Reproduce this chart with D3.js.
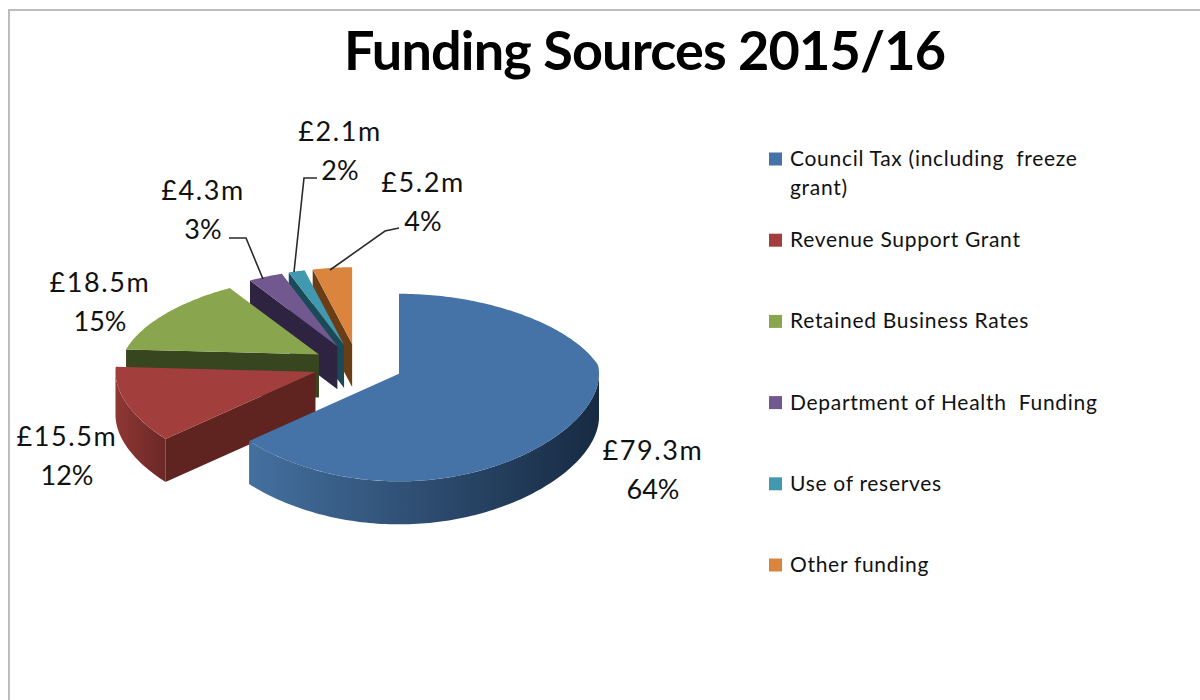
<!DOCTYPE html>
<html>
<head>
<meta charset="utf-8">
<script src="https://cdn.jsdelivr.net/npm/d3@7"></script>
<style>
  html, body { margin: 0; padding: 0; background: #fff; }
  text { font-family: Lato, "Open Sans", sans-serif; fill: #111; }
</style>
</head>
<body>
<svg id="chart" width="1200" height="700"></svg>
<script>
const categories = [
  "Council Tax (including  freeze grant)",
  "Revenue Support Grant",
  "Retained Business Rates",
  "Department of Health  Funding",
  "Use of reserves",
  "Other funding"
];
const millions = [79.3, 15.5, 18.5, 4.3, 2.1, 5.2];
const percents = [64, 12, 15, 3, 2, 4];
const topColours = ["#4572a7", "#a23f3c", "#89a54e", "#71588f", "#4198af", "#db843d"];
const wallColours = ["#243f60", "#5f2320", "#38461f", "#2e2340", "#1a4a57", "#6b3d14"];
const rimLeftColours = ["#44709f", "#8f3734", "#38461f", "#2e2340", "#1a4a57", "#6b3d14"];
const rimRightColours = ["#172a42", "#6a2826", "#38461f", "#2e2340", "#1a4a57", "#6b3d14"];

const title = "Funding Sources 2015/16";

// Geometry of the tilted, exploded pie
const centre = { x: 358, y: 365 };
const explode = 45;
const explodeSquash = 0.47;
const radius = 200;
const verticalRadius = 90.5;
const perspective = 0.146;
const backNarrowing = 0.2;
const depth = 43;

const svg = d3.select("#chart");
const defs = svg.append("defs");

// Chart frame
svg.append("path")
  .attr("d", "M1200,10 H9 V700")
  .attr("fill", "none")
  .attr("stroke", "#bdbdbd")
  .attr("stroke-width", 2);

// Title
svg.append("text")
  .attr("x", 645).attr("y", 70)
  .attr("text-anchor", "middle")
  .attr("font-size", 54).attr("font-weight", 700)
  .attr("textLength", 602).attr("lengthAdjust", "spacing")
  .style("fill", "#000")
  .text(title);

const arcs = d3.pie().sort(null).value(d => d)(millions);

// Position on a slice's top face: angle clockwise from 12 o'clock.
// worldV is how far the point sits towards the viewer once the slice's
// outward shift is counted, so slices further back foreshorten more.
function rimPoint(apex, angle) {
  const u = Math.sin(angle);
  const v = -Math.cos(angle);
  const worldV = v + (apex.y - centre.y) / (explodeSquash * radius);
  const narrowing = 1 + backNarrowing * Math.min(0, worldV);
  return [
    apex.x + radius * u * narrowing,
    apex.y + verticalRadius * v / (1 - perspective * worldV)
  ];
}

function sampleAngles(a0, a1) {
  const steps = Math.max(2, Math.ceil((a1 - a0) / 0.02));
  return d3.range(steps + 1).map(i => a0 + (a1 - a0) * i / steps);
}

const line = d3.line();
const down = p => [p[0], p[1] + depth];

const slices = arcs.map((arc, i) => {
  const mid = (arc.startAngle + arc.endAngle) / 2;
  const apex = {
    x: centre.x + explode * Math.sin(mid),
    y: centre.y - explode * explodeSquash * Math.cos(mid)
  };
  return { arc, i, apex };
});

// Painted back to front: the last slices sit furthest away
const pieGroup = svg.append("g");
slices.slice().reverse().forEach(({ arc, i, apex }) => {
  const g = pieGroup.append("g").attr("class", "slice");
  const apexPoint = [apex.x, apex.y];
  const { startAngle: a0, endAngle: a1 } = arc;

  // Radial walls that face the viewer
  const radialWall = angle => {
    const p = rimPoint(apex, angle);
    g.append("path")
      .attr("d", line([apexPoint, p, down(p), down(apexPoint)]) + "Z")
      .attr("fill", wallColours[i]);
  };
  if (Math.sin(a0) < -1e-6) radialWall(a0);
  if (Math.sin(a1) > 1e-6) radialWall(a1);

  // Curved outer wall, front half only
  const f0 = Math.max(a0, Math.PI / 2);
  const f1 = Math.min(a1, 3 * Math.PI / 2);
  if (f1 > f0) {
    const edge = sampleAngles(f0, f1).map(a => rimPoint(apex, a));
    const xs = d3.extent(edge, d => d[0]);
    const gradient = defs.append("linearGradient")
      .attr("id", "rim-" + i)
      .attr("gradientUnits", "userSpaceOnUse")
      .attr("x1", xs[0]).attr("x2", xs[1])
      .attr("y1", 0).attr("y2", 0);
    gradient.append("stop").attr("offset", "0%").attr("stop-color", rimLeftColours[i]);
    gradient.append("stop").attr("offset", "100%").attr("stop-color", rimRightColours[i]);
    g.append("path")
      .attr("d", line(edge.concat(edge.slice().reverse().map(down))) + "Z")
      .attr("fill", `url(#rim-${i})`);
  }

  // Top face
  const outline = [apexPoint].concat(sampleAngles(a0, a1).map(a => rimPoint(apex, a)));
  g.append("path")
    .attr("d", line(outline) + "Z")
    .attr("fill", topColours[i]);
});

// Leader lines for the small slices
const leaders = [
  { from: [229, 238], elbow: [246, 238], to: [263, 279] },
  { from: [317, 178], elbow: [304, 178], to: [294, 272] },
  { from: [399, 228], elbow: [385, 231], to: [330, 270] }
];
svg.append("g").selectAll("path")
  .data(leaders)
  .join("path")
  .attr("d", d => line([d.from, d.elbow, d.to]))
  .attr("fill", "none")
  .attr("stroke", "#2b2b2b")
  .attr("stroke-width", 1.6);

// Value and share labels
const labelCentres = [
  [653, 460], [67, 446], [100, 292], [203, 200], [340, 141], [423, 192]
];
const labels = svg.append("g").selectAll("g")
  .data(millions)
  .join("g")
  .attr("font-size", 27)
  .attr("text-anchor", "middle");
labels.append("text")
  .attr("x", (d, i) => labelCentres[i][0])
  .attr("y", (d, i) => labelCentres[i][1])
  .attr("letter-spacing", 1.6)
  .text(d => `£${d.toFixed(1)}m`);
labels.append("text")
  .attr("x", (d, i) => labelCentres[i][0])
  .attr("y", (d, i) => labelCentres[i][1] + 39)
  .text((d, i) => `${percents[i]}%`);

// Legend
const legendY = d3.scalePoint().domain(d3.range(categories.length)).range([159, 565]);
const legendLines = [
  ["Council Tax (including  freeze", "grant)"],
  [categories[1]], [categories[2]], [categories[3]], [categories[4]], [categories[5]]
];
const legend = svg.append("g").selectAll("g")
  .data(categories)
  .join("g")
  .attr("transform", (d, i) => `translate(769,${legendY(i)})`);
legend.append("rect")
  .attr("x", 0).attr("y", -6.5)
  .attr("width", 13).attr("height", 13)
  .attr("fill", (d, i) => topColours[i]);
legend.each(function (d, i) {
  const entry = d3.select(this);
  legendLines[i].forEach((textLine, j) => {
    entry.append("text")
      .attr("x", 21).attr("y", 7 + j * 29)
      .attr("font-size", 21)
      .attr("letter-spacing", 0.7)
      .style("white-space", "pre")
      .text(textLine);
  });
});
</script>
</body>
</html>
